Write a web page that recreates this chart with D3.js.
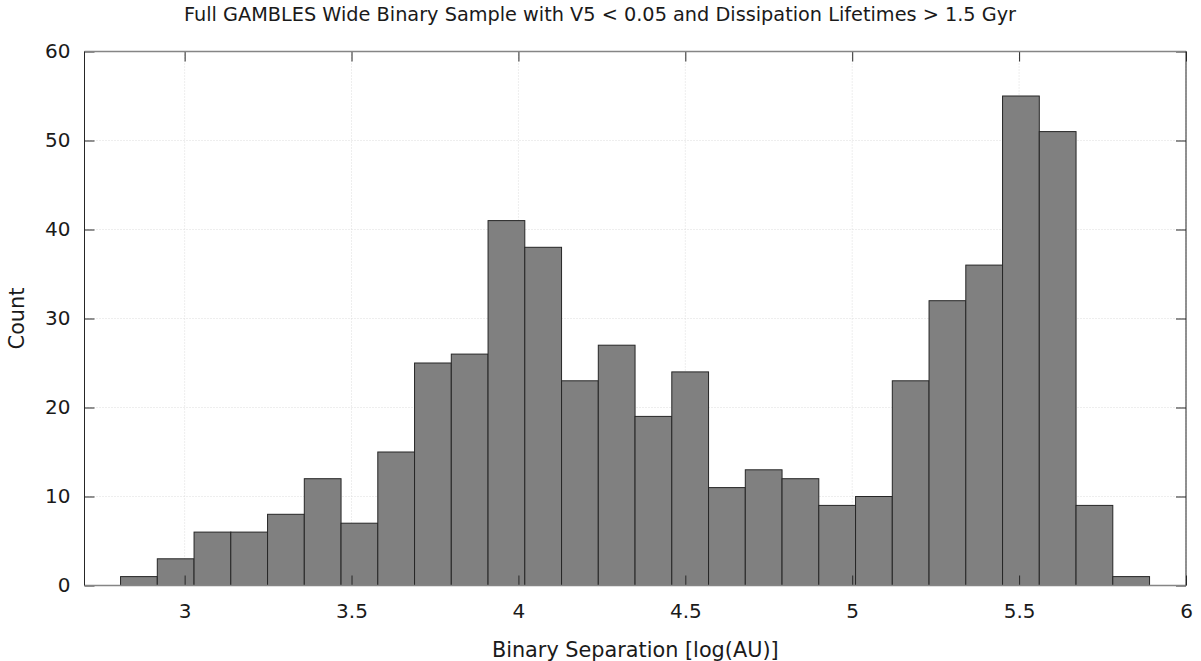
<!DOCTYPE html>
<html>
<head>
<meta charset="utf-8">
<script src="https://cdn.jsdelivr.net/npm/d3@7"></script>
<style>
  body { margin: 0; background: #fff; }
  text { font-family: "DejaVu Sans", sans-serif; fill: #1a1a1a; }
</style>
</head>
<body>
<div id="chart"></div>
<script>
// histogram bins (log AU), first edge and bin width
const binStart = 2.808;
const binWidth = 0.1101;
const counts = [1, 3, 6, 6, 8, 12, 7, 15, 25, 26, 41, 38, 23, 27, 19, 24, 11, 13, 12, 9, 10, 23, 32, 36, 55, 51, 9, 1];
const xTicks = [3, 3.5, 4, 4.5, 5, 5.5, 6];
const yTicks = [0, 10, 20, 30, 40, 50, 60];

const titleText = "Full GAMBLES Wide Binary Sample with V5 < 0.05 and Dissipation Lifetimes > 1.5 Gyr";
const xLabel = "Binary Separation [log(AU)]";
const yLabel = "Count";

const W = 1201, H = 661;
const margin = {top: 51.5, right: 15, bottom: 75.5, left: 84.5};
const width = W - margin.left - margin.right;
const height = H - margin.top - margin.bottom;

const svg = d3.select("#chart").append("svg")
    .attr("width", W)
    .attr("height", H);

const g = svg.append("g")
    .attr("transform", `translate(${margin.left},${margin.top})`);

const x = d3.scaleLinear().domain([2.7, 6]).range([0, width]);
const y = d3.scaleLinear().domain([0, 60]).range([height, 0]);

// dotted grid
g.append("g").selectAll("line")
    .data(xTicks)
    .enter().append("line")
    .attr("x1", d => x(d)).attr("x2", d => x(d))
    .attr("y1", 0).attr("y2", height)
    .attr("stroke", "#dcdcdc")
    .attr("stroke-dasharray", "1,2");

g.append("g").selectAll("line")
    .data(yTicks)
    .enter().append("line")
    .attr("x1", 0).attr("x2", width)
    .attr("y1", d => y(d)).attr("y2", d => y(d))
    .attr("stroke", "#dcdcdc")
    .attr("stroke-dasharray", "1,2");

// bars
const bins = counts.map((c, i) => ({x0: binStart + i * binWidth, x1: binStart + (i + 1) * binWidth, n: c}));

g.append("g").selectAll("rect")
    .data(bins)
    .enter().append("rect")
    .attr("x", d => x(d.x0))
    .attr("y", d => y(d.n))
    .attr("width", d => x(d.x1) - x(d.x0))
    .attr("height", d => y(0) - y(d.n))
    .attr("fill", "#808080")
    .attr("stroke", "#262626")
    .attr("stroke-width", 1);

// axes with inward ticks
const axisStyle = sel => {
    sel.select(".domain").remove();
    sel.selectAll(".tick line").attr("stroke", "#262626");
    sel.selectAll(".tick text").style("font-size", "20px").attr("fill", "#1a1a1a");
};

g.append("g")
    .attr("transform", `translate(0,${height})`)
    .call(d3.axisBottom(x).tickValues(xTicks).tickSizeInner(-10).tickSizeOuter(0).tickPadding(18).tickFormat(d3.format("")))
    .call(axisStyle);

g.append("g")
    .call(d3.axisTop(x).tickValues(xTicks).tickSizeInner(-10).tickSizeOuter(0).tickFormat(""))
    .call(axisStyle);

g.append("g")
    .call(d3.axisLeft(y).tickValues(yTicks).tickSizeInner(-10).tickSizeOuter(0).tickPadding(14))
    .call(axisStyle);

g.append("g")
    .attr("transform", `translate(${width},0)`)
    .call(d3.axisRight(y).tickValues(yTicks).tickSizeInner(-10).tickSizeOuter(0).tickFormat(""))
    .call(axisStyle);

// frame
g.append("line").attr("x1", 0).attr("x2", width).attr("y1", 0).attr("y2", 0)
    .attr("stroke", "#858585").attr("stroke-width", 1.5);
g.append("line").attr("x1", 0).attr("x2", width).attr("y1", height).attr("y2", height)
    .attr("stroke", "#858585").attr("stroke-width", 1.5);
g.append("line").attr("x1", 0).attr("x2", 0).attr("y1", 0).attr("y2", height)
    .attr("stroke", "#262626").attr("stroke-width", 1);
g.append("line").attr("x1", width).attr("x2", width).attr("y1", 0).attr("y2", height)
    .attr("stroke", "#262626").attr("stroke-width", 1);

// labels
svg.append("text")
    .attr("x", 600).attr("y", 21)
    .attr("text-anchor", "middle")
    .style("font-size", "19.3px")
    .text(titleText);

svg.append("text")
    .attr("x", margin.left + width / 2).attr("y", 657)
    .attr("text-anchor", "middle")
    .style("font-size", "20.8px")
    .text(xLabel);

svg.append("text")
    .attr("transform", `translate(24,${margin.top + height / 2}) rotate(-90)`)
    .attr("text-anchor", "middle")
    .style("font-size", "20.8px")
    .text(yLabel);
</script>
</body>
</html>
